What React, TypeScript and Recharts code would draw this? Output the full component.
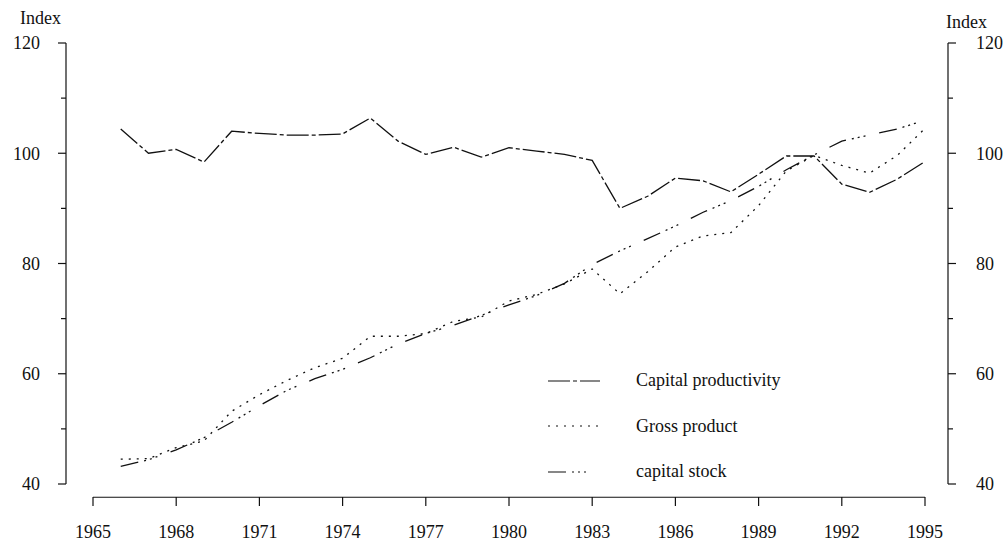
import React from 'react';
import { LineChart, Line, XAxis, YAxis, Legend, ReferenceLine } from 'recharts';

// index values (1966-1995)
const years = [
  1966, 1967, 1968, 1969, 1970, 1971, 1972, 1973, 1974, 1975,
  1976, 1977, 1978, 1979, 1980, 1981, 1982, 1983, 1984, 1985,
  1986, 1987, 1988, 1989, 1990, 1991, 1992, 1993, 1994, 1995,
];
const capitalProductivity = [
  104.4, 100.0, 100.7, 98.4, 104.0, 103.6, 103.3, 103.3, 103.5, 106.4,
  102.2, 99.8, 101.1, 99.3, 101.0, 100.4, 99.8, 98.7, 90.0, 92.2,
  95.5, 95.0, 93.0, 96.2, 99.5, 99.5, 94.4, 92.9, 95.3, 98.5,
];
const grossProduct = [
  44.5, 44.6, 46.6, 47.8, 53.2, 56.2, 58.8, 61.1, 62.8, 66.8,
  66.8, 67.3, 69.5, 70.3, 73.2, 74.4, 76.3, 79.0, 74.5, 78.5,
  83.0, 85.0, 85.6, 90.5, 96.8, 99.6, 97.8, 96.4, 99.6, 104.5,
];
const capitalStock = [
  43.2, 44.4, 46.2, 48.4, 51.2, 54.2, 57.0, 59.1, 60.8, 62.9,
  65.4, 67.3, 68.8, 70.6, 72.5, 74.2, 76.4, 79.8, 82.3, 84.5,
  86.8, 89.3, 91.4, 94.0, 97.0, 99.7, 102.2, 103.3, 104.4, 106.0,
];

const xTicks = [1965, 1968, 1971, 1974, 1977, 1980, 1983, 1986, 1989, 1992, 1995];
const yTicks = [40, 50, 60, 70, 80, 90, 100, 110, 120];
const yLabels = [40, 60, 80, 100, 120];

const ink = '#111';
const font = '"Liberation Serif", "Times New Roman", serif';

// both y axes share the 40-120 scale, so capital stock is hung on the right one
const series = [
  { key: 'cp', name: 'Capital productivity', dash: '22 3 4 3', axis: 'left' },
  { key: 'gp', name: 'Gross product', dash: '2 6', axis: 'left' },
  { key: 'cs', name: 'capital stock', dash: '18 6 2 4 2 4 2 14', axis: 'right' },
];

const data = years.map((year, i) => ({
  year,
  cp: capitalProductivity[i],
  gp: grossProduct[i],
  cs: capitalStock[i],
}));

const LeftTick = (props: any) => {
  const { x, y, payload } = props;
  const major = yLabels.includes(payload.value);
  return (
    <g>
      <line x1={x} x2={x - (major ? 8 : 5)} y1={y} y2={y} stroke={ink} strokeWidth={1.2} />
      {major && (
        <text x={x - 26} y={y} dy="0.36em" textAnchor="end" fill={ink} fontSize={18} fontFamily={font}>
          {payload.value}
        </text>
      )}
    </g>
  );
};

const RightTick = (props: any) => {
  const { x, y, payload } = props;
  const major = yLabels.includes(payload.value);
  return (
    <g>
      <line x1={x} x2={x + (major ? 8 : 5)} y1={y} y2={y} stroke={ink} strokeWidth={1.2} />
      {major && (
        <text x={x + 28} y={y} dy="0.36em" textAnchor="start" fill={ink} fontSize={18} fontFamily={font}>
          {payload.value}
        </text>
      )}
    </g>
  );
};

const BottomTick = (props: any) => {
  const { x, y, payload } = props;
  return (
    <g>
      <line x1={x} x2={x} y1={y + 13} y2={y + 22} stroke={ink} strokeWidth={1.2} />
      <text x={x} y={y + 54} textAnchor="middle" fill={ink} fontSize={18} fontFamily={font}>
        {payload.value}
      </text>
    </g>
  );
};

const renderLegend = () => (
  <div style={{ fontFamily: font, fontSize: 18, color: ink }}>
    {series.map((s) => (
      <div key={s.key} style={{ display: 'flex', alignItems: 'center', height: 45.5 }}>
        <svg width={96} height={10}>
          <line x1={8} x2={60} y1={5} y2={5} stroke={ink} strokeWidth={1.2} strokeDasharray={s.dash} />
        </svg>
        <span>{s.name}</span>
      </div>
    ))}
  </div>
);

export default function App() {
  return (
    <div style={{ position: 'absolute', left: 0, top: 0, width: 1005, height: 542, background: '#fff' }}>
      <div style={{ position: 'absolute', left: 20, top: 8, fontFamily: font, fontSize: 18, color: ink }}>Index</div>
      <div style={{ position: 'absolute', left: 946, top: 12, fontFamily: font, fontSize: 18, color: ink }}>Index</div>
      <LineChart width={1005} height={542} data={data} margin={{ top: 43, right: 0, bottom: 0, left: 0 }}>
        <XAxis
          dataKey="year"
          type="number"
          domain={[1965, 1995]}
          ticks={xTicks}
          interval={0}
          padding={{ left: 27, right: 23 }}
          height={58}
          axisLine={false}
          tickLine={false}
          tickSize={0}
          tickMargin={0}
          tick={<BottomTick />}
        />
        <YAxis
          yAxisId="left"
          orientation="left"
          width={66}
          domain={[40, 120]}
          ticks={yTicks}
          interval={0}
          axisLine={{ stroke: ink, strokeWidth: 1.2 }}
          tickLine={false}
          tickSize={0}
          tickMargin={0}
          tick={<LeftTick />}
        />
        <YAxis
          yAxisId="right"
          orientation="right"
          width={57}
          domain={[40, 120]}
          ticks={yTicks}
          interval={0}
          axisLine={{ stroke: ink, strokeWidth: 1.2 }}
          tickLine={false}
          tickSize={0}
          tickMargin={0}
          tick={<RightTick />}
        />
        <ReferenceLine
          yAxisId="left"
          segment={[{ x: 1965, y: 37.6 }, { x: 1995, y: 37.6 }]}
          stroke={ink}
          strokeWidth={1.2}
          ifOverflow="visible"
        />
        {series.map((s) => (
          <Line
            key={s.key}
            yAxisId={s.axis}
            dataKey={s.key}
            name={s.name}
            type="linear"
            stroke={ink}
            strokeWidth={1.3}
            strokeDasharray={s.dash}
            dot={false}
            activeDot={false}
            isAnimationActive={false}
          />
        ))}
        <Legend
          layout="vertical"
          align="center"
          verticalAlign="middle"
          content={renderLegend}
          wrapperStyle={{ left: 540, top: 358, width: 300 }}
        />
      </LineChart>
    </div>
  );
}
